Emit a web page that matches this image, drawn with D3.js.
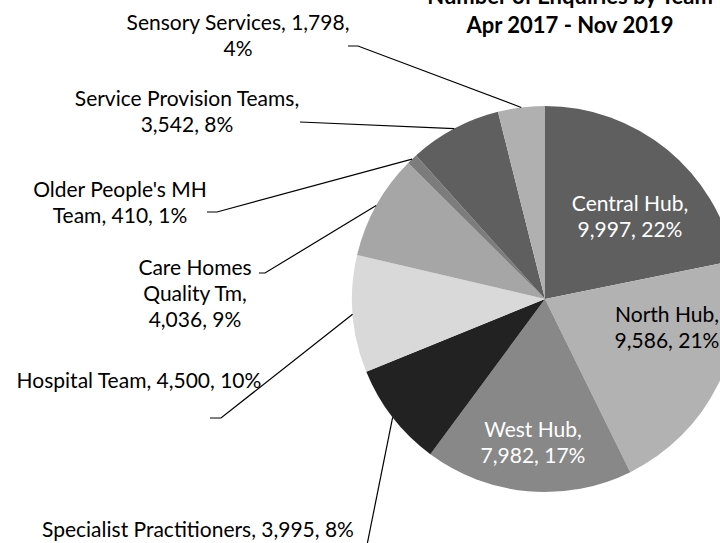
<!DOCTYPE html>
<html>
<head>
<meta charset="utf-8">
<script src="https://cdn.jsdelivr.net/npm/d3@7"></script>
<style>
  html, body { margin: 0; padding: 0; background: #fff; }
  svg { display: block; }
  text { font-family: Lato, "Open Sans", sans-serif; }
</style>
</head>
<body>
<div id="chart"></div>
<script>
// data
const teams = ["Central Hub", "North Hub", "West Hub", "Specialist Practitioners", "Hospital Team",
  "Care Homes Quality Tm", "Older People's MH Team", "Service Provision Teams", "Sensory Services"];
const enquiries = [9997, 9586, 7982, 3995, 4500, 4036, 410, 3542, 1798];
const percentLabels = ["22%", "21%", "17%", "8%", "10%", "9%", "1%", "8%", "4%"];
const titleLines = ["Number of Enquiries by Team", "Apr 2017 - Nov 2019"];

// label text, broken the way the chart breaks it
const labelLines = [
  ["Central Hub,", "9,997, 22%"],
  ["North Hub,", "9,586, 21%"],
  ["West Hub,", "7,982, 17%"],
  ["Specialist Practitioners, 3,995, 8%"],
  ["Hospital Team, 4,500, 10%"],
  ["Care Homes", "Quality Tm,", "4,036, 9%"],
  ["Older People's MH", "Team, 410, 1%"],
  ["Service Provision Teams,", "3,542, 8%"],
  ["Sensory Services, 1,798,", "4%"]
];

const W = 720, H = 543;
const cx = 545, cy = 299, r = 193;
const lineH = 26;

const fills = ["#5f5f5f", "#b2b2b2", "#888888", "#222222", "#d9d9d9", "#a6a6a6", "#7c7c7c", "#5f5f5f", "#b0b0b0"];
const textFills = ["#fff", "#000", "#fff", "#000", "#000", "#000", "#000", "#000", "#000"];

// label placement: centre x, first baseline
const labelPos = [
  [630, 211], [667, 322], [533, 437], [198, 537], [139, 388],
  [195, 275], [120, 197], [187, 106], [238, 30]
];
// leader line points on the label side (pie side comes from the arc)
const leaderPts = [
  null, null, null,
  [[366, 550]],
  [[210, 418], [221, 418]],
  [[259, 273], [265, 273]],
  [[207, 212], [217, 212]],
  [[300, 122]],
  [[348, 46], [358, 46]]
];

const data = teams.map((t, i) => ({ team: t, value: enquiries[i], pct: percentLabels[i], i: i }));

const svg = d3.select("#chart").append("svg")
  .attr("width", W)
  .attr("height", H);

const pie = d3.pie().sort(null).value(d => d.value);
const arcs = pie(data);
const arc = d3.arc().innerRadius(0).outerRadius(r);
const edge = d3.arc().innerRadius(r).outerRadius(r);

const g = svg.append("g").attr("transform", `translate(${cx},${cy})`);

g.selectAll("path.slice")
  .data(arcs)
  .enter().append("path")
  .attr("class", "slice")
  .attr("d", arc)
  .attr("fill", d => fills[d.data.i]);

// leader lines
const line = d3.line();
svg.selectAll("path.leader")
  .data(arcs.filter(d => leaderPts[d.data.i]))
  .enter().append("path")
  .attr("class", "leader")
  .attr("d", d => {
    const c = edge.centroid(d);
    const pts = leaderPts[d.data.i].concat([[cx + c[0], cy + c[1]]]);
    return line(pts);
  })
  .attr("fill", "none")
  .attr("stroke", "#000")
  .attr("stroke-width", 1.2);

// data labels
const labels = svg.selectAll("text.lbl")
  .data(arcs)
  .enter().append("text")
  .attr("class", "lbl")
  .attr("text-anchor", "middle")
  .attr("font-size", 21)
  .attr("fill", d => textFills[d.data.i]);

labels.selectAll("tspan")
  .data(d => labelLines[d.data.i].map((s, k) => ({ s: s, k: k, i: d.data.i })))
  .enter().append("tspan")
  .attr("x", d => labelPos[d.i][0])
  .attr("y", d => labelPos[d.i][1] + d.k * lineH)
  .text(d => d.s);

// title
svg.append("text")
  .attr("text-anchor", "middle")
  .attr("font-size", 22)
  .attr("font-weight", "bold")
  .selectAll("tspan")
  .data(titleLines)
  .enter().append("tspan")
  .attr("x", 570)
  .attr("y", (d, k) => 4 + k * 29)
  .text(d => d);
</script>
</body>
</html>
